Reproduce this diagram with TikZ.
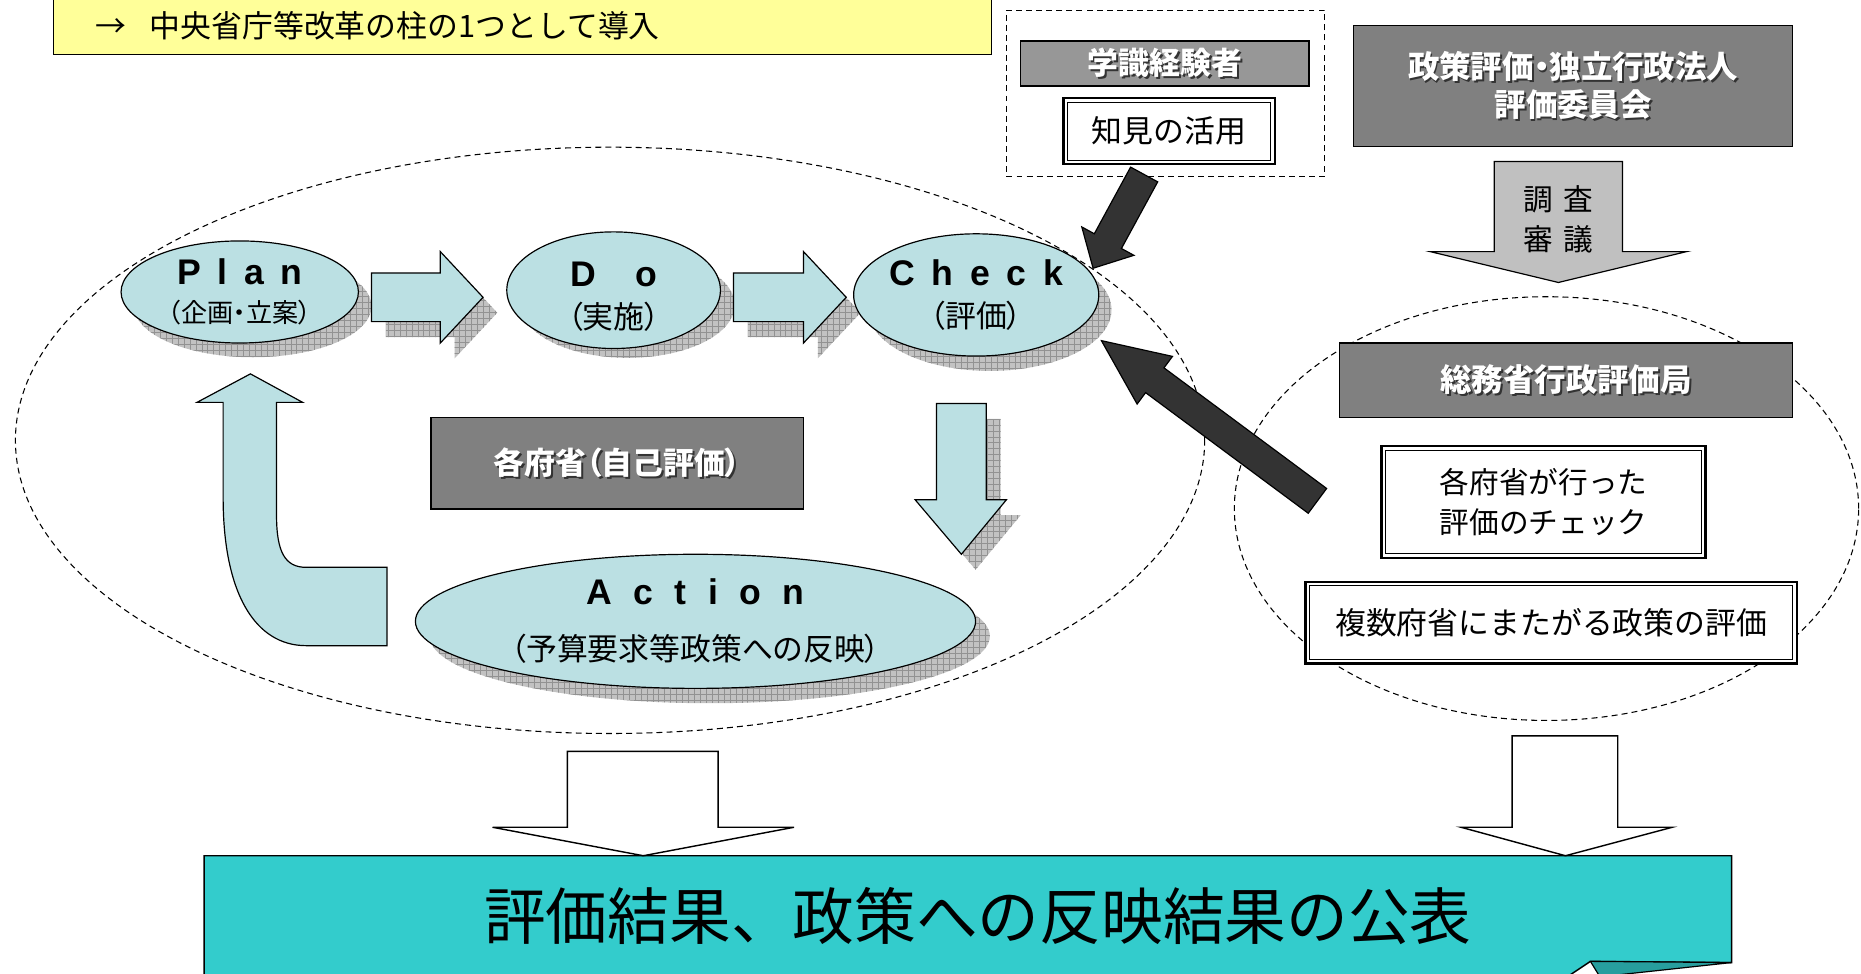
\documentclass[tikz,border=0pt]{standalone}
\usepackage{fontspec}
\setmainfont{Noto Sans CJK JP}
\newfontfamily\lat{Liberation Sans}
\usetikzlibrary{shapes.geometric,calc}
\definecolor{cyanf}{HTML}{BBE0E3}
\definecolor{yel}{HTML}{FFFF99}
\definecolor{tealA}{HTML}{33CCCC}
\definecolor{tealB}{HTML}{279E9E}
\definecolor{dk}{HTML}{333333}
\definecolor{gbx}{HTML}{808080}
\definecolor{gbxl}{HTML}{979797}
\definecolor{garrow}{HTML}{C0C0C0}
\definecolor{shd}{HTML}{C2C2C2}
\definecolor{shdl}{HTML}{929292}
\newcommand\palt{\addfontfeatures{RawFeature=+palt}}
\newcommand\shw[1]{\leavevmode\rlap{\hspace{1.6pt}\raisebox{-1.6pt}{\textcolor{black!80}{#1}}}\textcolor{white}{#1}}
\newcommand\lt[1]{{\lat\bfseries\fontsize{30}{30}\selectfont #1}}
\newcommand\fatarrow[6]{%
  \coordinate (fah) at ($(#3)!#6!(#2)$);
  \path[#1] ($(#2)!#4!90:(#3)$) -- ($(fah)!#4!90:(#3)$) -- ($(fah)!#5!90:(#3)$) -- (#3)
    -- ($(fah)!#5!-90:(#3)$) -- ($(fah)!#4!-90:(#3)$) -- ($(#2)!#4!-90:(#3)$) -- cycle;}
\begin{document}
\begin{tikzpicture}[x=1pt,y=-1pt,
  ell/.style={ellipse, draw=black, line width=1pt, fill=cyanf, inner sep=0pt, align=center},
  gbox/.style={rectangle, draw=black, line width=1.2pt, fill=gbx, inner sep=0pt, align=center,
    font=\bfseries\fontsize{26}{32}\selectfont},
  dbox/.style={rectangle, draw=black, line width=1.8pt, fill=white, inner sep=0pt, align=center,
    font=\fontsize{26}{33}\selectfont,
    path picture={\draw[line width=0.8pt] ([shift={(3.6pt,3.6pt)}]path picture bounding box.south west)
      rectangle ([shift={(-3.6pt,-3.6pt)}]path picture bounding box.north east);}},
  blk/.style={fill=cyanf, draw=black, line width=1pt, line join=miter},
  shad/.style={fill=shd, path picture={\draw[shdl, line width=0.45pt, step=5pt]
      (path picture bounding box.south west) grid (path picture bounding box.north east);}},
  dark/.style={fill=dk, draw=black, line width=1pt},
  wht/.style={fill=white, draw=black, line width=1.2pt},
  dsh/.style={draw=black, line width=0.9pt, dash pattern=on 5pt off 3.5pt}
]
\useasboundingbox (0,0) rectangle (1568,820);

% dashed groups
\node[ellipse, dsh, minimum width=1002pt, minimum height=494pt, inner sep=0pt] (selfgrp) at (514,371) {};
\node[ellipse, dsh, minimum width=526pt, minimum height=357pt, inner sep=0pt] (mic) at (1303,428.5) {};

% yellow banner
\node[draw=black, line width=0.8pt, fill=yel, minimum width=790pt, minimum height=51pt, inner sep=0pt] (ybox) at (440,20.5) {};
\node[anchor=west, inner sep=0pt, font=\fontsize{26}{26}\selectfont] (ytext) at (80,22) {→\hspace{20pt}中央省庁等改革の柱の1つとして導入};

% experts
\node[dsh, minimum width=268pt, minimum height=140pt, inner sep=0pt] (expgrp) at (982,78.5) {};
\node[gbox, fill=gbxl, minimum width=243pt, minimum height=38pt] (gaku) at (981.5,53.5) {\shw{学識経験者}};
\node[dbox, minimum width=178pt, minimum height=56pt] (chiken) at (985,110.5) {知見の活用};

% commission
\node[gbox, font=\bfseries\fontsize{26.5}{32}\selectfont, minimum width=370pt, minimum height=102pt] (comm) at (1325.5,72.5) {\shw{\palt 政策評価・独立行政法人}\\\shw{評価委員会}};
\path[fill=garrow, draw=black, line width=1pt] (1259,136) -- (1367,136) -- (1367,212) -- (1421,212) -- (1313,238) -- (1205,212) -- (1259,212) -- cycle;
\node[font=\fontsize{25}{34}\selectfont, align=center, inner sep=0pt] (chosa) at (1313,185) {調\hspace{9pt}査\\審\hspace{9pt}議};

% shadows
\path[shad] (213,258) ellipse [x radius=100, y radius=43];
\path[shad] (529,257) ellipse [x radius=90, y radius=44.5];
\path[shad] (834,261) ellipse [x radius=102.5, y radius=51.5];
\path[shad] (598,536) ellipse [x radius=236, y radius=56.5];
\path[shad, shift={(12,13)}] (313,230) -- (371,230) -- (371,212) -- (407,250.5) -- (371,289) -- (371,271) -- (313,271) -- cycle;
\path[shad, shift={(12,13)}] (618,230) -- (677,230) -- (677,212) -- (713,250.5) -- (677,289) -- (677,271) -- (618,271) -- cycle;
\path[shad, shift={(12,13)}] (789,340) -- (831,340) -- (831,421) -- (848,421) -- (810,467) -- (771,421) -- (789,421) -- cycle;

% PDCA
\node[ell, minimum width=200pt, minimum height=86pt, font=\fontsize{22}{32}\selectfont] (plan) at (202,246)
  {\lt{P\hspace{14pt}l\hspace{14pt}a\hspace{14pt}n}\\{\palt （企画・立案）}};
\node[ell, minimum width=180pt, minimum height=89pt, font=\fontsize{26}{35}\selectfont] (do) at (517,244.5)
  {\lt{\rule{0pt}{32pt}D\hspace{33pt}o}\\{\palt （実施）}};
\node[ell, minimum width=205pt, minimum height=103pt, font=\fontsize{26}{35}\selectfont] (check) at (822.5,248.5)
  {\lt{C\hspace{14pt}h\hspace{14pt}e\hspace{14pt}c\hspace{14pt}k}\\{\palt （評価）}};
\node[ell, minimum width=472pt, minimum height=113pt, font=\fontsize{26}{47}\selectfont] (action) at (586,523.5)
  {\lt{A\hspace{18pt}c\hspace{18pt}t\hspace{18pt}i\hspace{18pt}o\hspace{18pt}n}\\{\palt （予算要求等政策への反映）}};

\path[blk] (313,230) -- (371,230) -- (371,212) -- (407,250.5) -- (371,289) -- (371,271) -- (313,271) -- cycle;
\path[blk] (618,230) -- (677,230) -- (677,212) -- (713,250.5) -- (677,289) -- (677,271) -- (618,271) -- cycle;
\path[blk] (789,340) -- (831,340) -- (831,421) -- (848,421) -- (810,467) -- (771,421) -- (789,421) -- cycle;
\path[blk] (166,339) -- (211,315) -- (255,339) -- (233,339) -- (233,434)
  .. controls (233,465) and (240,478) .. (258,478) -- (326,478) -- (326,544) -- (258,544)
  .. controls (215,544) and (188,500) .. (188,419) -- (188,339) -- cycle;

\node[gbox, minimum width=314pt, minimum height=77pt] (jiko) at (520,390.5) {\shw{\palt 各府省（自己評価）}};

% MIC side
\node[gbox, font=\bfseries\fontsize{26.5}{32}\selectfont, minimum width=382pt, minimum height=63pt] (somu) at (1319.5,320.5) {\shw{総務省行政評価局}};
\node[dbox, font=\fontsize{25}{33}\selectfont, minimum width=273pt, minimum height=94pt] (chk) at (1300.5,423) {各府省が行った\\評価のチェック};
\node[dbox, minimum width=414pt, minimum height=69pt] (fuku) at (1307,524.5) {複数府省にまたがる政策の評価};

% dark arrows
\coordinate (k1) at (964,147);
\coordinate (k2) at (921,226);
\fatarrow{dark}{k1}{k2}{13pt}{25pt}{26pt}
\coordinate (m1) at (1110,422);
\coordinate (m2) at (928,287);
\fatarrow{dark}{m1}{m2}{13pt}{25pt}{56pt}

% publication
\path[fill=tealA, draw=black, line width=1.2pt] (172,830) -- (172,721) -- (1459,721) -- (1459,811) -- (1340,810) -- (1310,830);
\path[fill=tealB, draw=black, line width=1pt] (1340,810) -- (1459,811) -- (1348,823) -- cycle;
\node[font=\fontsize{52}{52}\selectfont, inner sep=0pt] (pub) at (824,772) {評価結果、政策への反映結果の公表};
\path[wht] (478,633) -- (605,633) -- (605,697) -- (669,697) -- (542,721) -- (415,697) -- (478,697) -- cycle;
\path[wht] (1274,620) -- (1363,620) -- (1363,697) -- (1409,697) -- (1319,721) -- (1231,697) -- (1274,697) -- cycle;
\end{tikzpicture}
\end{document}
